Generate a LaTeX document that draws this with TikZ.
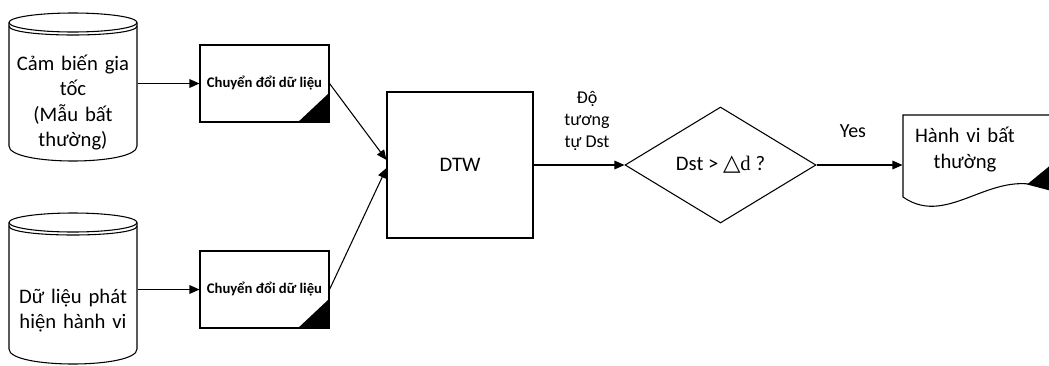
\documentclass[tikz,border=0pt]{standalone}
\usepackage{fontspec}
\setmainfont{Carlito}
\newfontfamily\symfont{DejaVu Sans}
\newfontfamily\serifd{Liberation Serif}
\usetikzlibrary{shapes.geometric,arrows.meta}

% Database cylinder: #1 = centre y of the top ellipse, #2 = y where the sides end
\newcommand\dbcylinder[2]{%
  \draw (73,#1) ellipse [x radius=64, y radius=9.5];
  \draw (9,#1+3.5) .. controls (9,#1+15.5) and (137,#1+15.5) .. (137,#1+3.5);
  \draw (9,#1) -- (9,#2) .. controls (9,#2+20) and (137,#2+20) .. (137,#2) -- (137,#1);
}

\begin{document}
\begin{tikzpicture}[x=0.75pt,y=-0.75pt,line width=0.8pt,
  every node/.style={inner sep=0pt, align=center},
  conn/.style={-{Triangle[length=7.5pt,width=6.5pt]}},
  bigtxt/.style={font=\fontsize{15.5}{19}\selectfont},
  smalltxt/.style={font=\fontsize{13.5}{16.5}\selectfont},
  convbox/.style={draw, minimum width=129*0.75pt, minimum height=77*0.75pt,
    font=\fontsize{11}{13}\selectfont\bfseries},
  cyltext/.style={bigtxt, text width=128*0.75pt},
]
\useasboundingbox (0,0) rectangle (1049,365);

% data sources
\dbcylinder{22.5}{146}
\dbcylinder{222.5}{349}
\node[cyltext] (cyl1) at (73,102.5) {Cảm biến gia\\tốc\\(Mẫu bất\\thường)};
\node[cyltext] (cyl2) at (73,310.5) {Dữ liệu phát\\hiện hành vi};

% conversion steps
\node[convbox] (box1) at (264.5,83.5) {Chuyển đổi dữ liệu};
\node[convbox] (box2) at (264.5,289.5) {Chuyển đổi dữ liệu};
\fill (box1.south east) -- ++(-32,0) -- ++(32,-30) -- cycle;
\fill (box2.south east) -- ++(-32,0) -- ++(32,-30) -- cycle;

% matching and decision
\node[draw, bigtxt, minimum width=146*0.75pt, minimum height=146*0.75pt] (dtw) at (460,165) {DTW};
\node[draw, diamond, aspect=1.65, bigtxt, minimum width=191*0.75pt, minimum height=116*0.75pt]
  (dia) at (720.5,165) {Dst > {\symfont\fontsize{17}{19}\selectfont △}{\serifd d} ?};

% result document
\node[bigtxt, text width=124*0.75pt] (doc) at (965,149.5) {Hành vi bất\\thường};
\fill (1027,184.5) -- (1052,164) -- (1052,191) -- cycle;
\draw (1052,115) -- (903,115) -- (903,197) .. controls (950,230) and (995,162) .. (1052,191);

% labels
\node[smalltxt] (lblsim) at (587,121) {Độ\\tương\\tự Dst};
\node[font=\fontsize{15}{18}\selectfont] (lblyes) at (853,131) {Yes};

% connectors
\draw[conn] (cyl1.east |- box1.west) -- (box1.west);
\draw[conn] (cyl2.east |- box2.west) -- (box2.west);
\draw[conn] (box1.east) -- ([yshift=3.75pt]dtw.west);
\draw[conn] (box2.east) -- ([yshift=-2.25pt]dtw.west);
\draw[conn] (dtw.east) -- (dia.west);
\draw[conn] (dia.east) -- (doc.west |- dia.east);
\end{tikzpicture}
\end{document}
